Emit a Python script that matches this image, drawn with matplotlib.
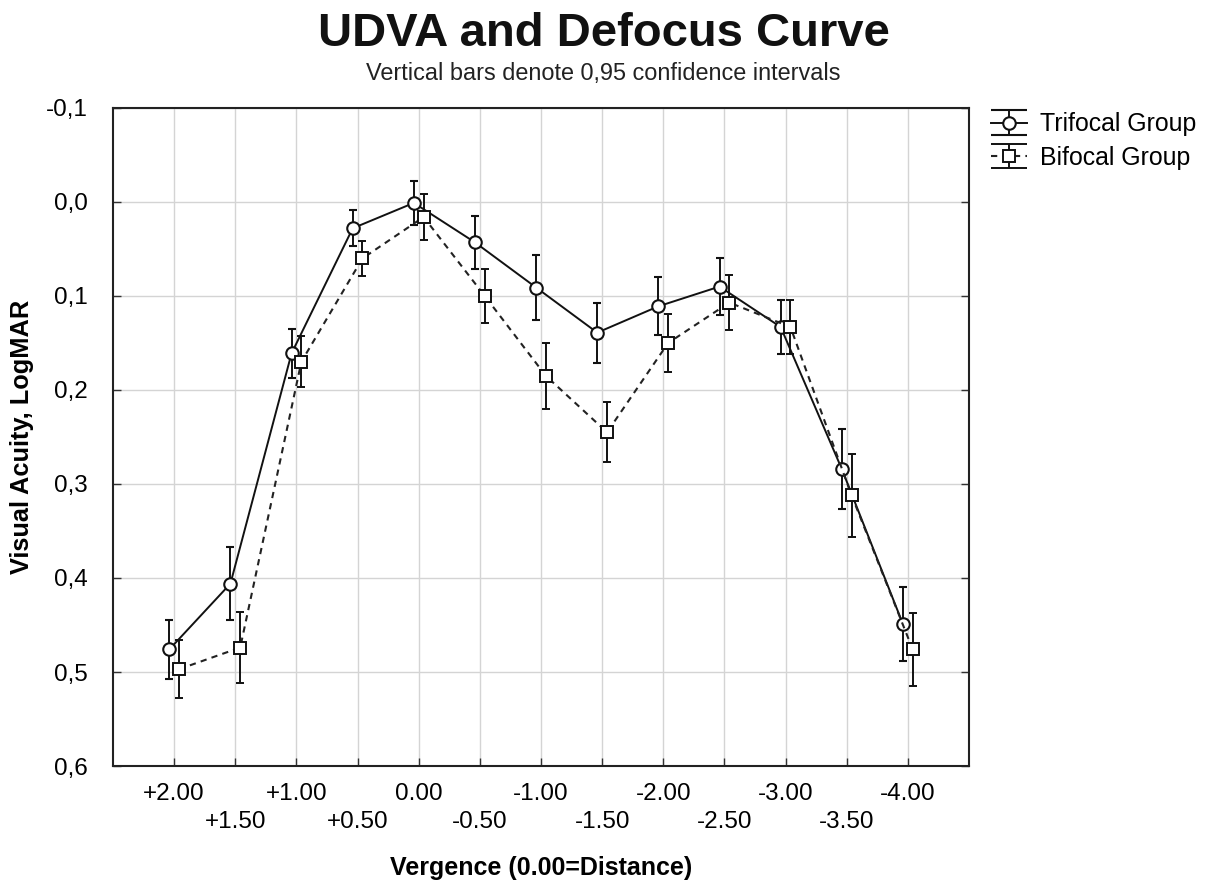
import numpy as np
import matplotlib.pyplot as plt

plt.rcParams['font.family'] = ['Liberation Sans', 'DejaVu Sans']

# vergence categories (dioptres), left to right
vergence = ['+2.00', '+1.50', '+1.00', '+0.50', '0.00', '-0.50', '-1.00',
            '-1.50', '-2.00', '-2.50', '-3.00', '-3.50', '-4.00']

# mean LogMAR and half-width of the 0.95 CI
tri_mean = [0.476, 0.406, 0.161, 0.028, 0.001, 0.043, 0.091,
            0.139, 0.111, 0.090, 0.133, 0.284, 0.449]
tri_ci = [0.031, 0.039, 0.026, 0.019, 0.023, 0.028, 0.035,
          0.032, 0.031, 0.030, 0.029, 0.043, 0.039]

bi_mean = [0.497, 0.474, 0.170, 0.060, 0.016, 0.100, 0.185,
           0.245, 0.150, 0.107, 0.133, 0.312, 0.476]
bi_ci = [0.031, 0.038, 0.027, 0.019, 0.024, 0.029, 0.035,
         0.032, 0.031, 0.029, 0.029, 0.044, 0.039]

yticks = [-0.1, 0.0, 0.1, 0.2, 0.3, 0.4, 0.5, 0.6]


fig = plt.figure(figsize=(12.13, 8.82), dpi=100)
ax = fig.add_axes([0.0932, 0.1315, 0.7056, 0.7461])

x = np.arange(len(vergence))
off = 0.08

tri_style = dict(color='#111111', lw=1.4, marker='o', ms=9, mfc='white',
                 mec='#111111', mew=1.5)
bi_style = dict(color='#222222', lw=1.5, ls=(0, (3, 2.5)), marker='s',
                ms=8.5, mfc='white', mec='#111111', mew=1.4)
bar_style = dict(ecolor='#111111', elinewidth=1.4, capthick=1.4)

ax.errorbar(x - off, tri_mean, yerr=tri_ci, capsize=3, zorder=3,
            **tri_style, **bar_style)
ax.errorbar(x + off, bi_mean, yerr=bi_ci, capsize=3, zorder=3,
            **bi_style, **bar_style)

# legend proxies with wide caps, as in the original legend
h1 = ax.errorbar([np.nan], [np.nan], yerr=[0.0], capsize=13,
                 label='Trifocal Group', **tri_style, **bar_style)
h2 = ax.errorbar([np.nan], [np.nan], yerr=[0.0], capsize=13,
                 label='Bifocal Group', **bi_style, **bar_style)

ax.set_xlim(-1, 13)
ax.set_ylim(0.6, -0.1)

ax.set_xticks(x)
ax.set_xticklabels([v if i % 2 == 0 else '\n' + v for i, v in enumerate(vergence)],
                   linespacing=1.4)
ax.set_yticks(yticks)
ax.set_yticklabels([('%.1f' % t).replace('.', ',') for t in yticks])

ax.grid(True, color='#d4d4d4', lw=1.0)
ax.set_axisbelow(True)
ax.tick_params(axis='both', direction='in', length=6, width=1, labelsize=17.5,
               color='#333333')
ax.tick_params(axis='y', right=True, pad=18)
ax.tick_params(axis='x', pad=12)
for s in ax.spines.values():
    s.set_linewidth(1.5)
    s.set_color('#222222')

ax.set_xlabel('Vergence (0.00=Distance)', fontsize=18, fontweight='bold',
              labelpad=16)
ax.set_ylabel('Visual Acuity, LogMAR', fontsize=18.3, fontweight='bold',
              labelpad=9)

fig.text(0.4975, 0.962, 'UDVA and Defocus Curve', fontsize=34,
         fontweight='bold', ha='center', va='center', color='#111111')
fig.text(0.4975, 0.917, 'Vertical bars denote 0,95 confidence intervals',
         fontsize=16.9, ha='center', va='center', color='#222222')

fig.legend(handles=[h1, h2], loc='upper left', bbox_to_anchor=(0.8085, 0.884),
           frameon=False, fontsize=17.9, handlelength=1.45, handletextpad=0.55,
           labelspacing=0.38, borderaxespad=0)

fig.savefig('out.png', dpi=100, facecolor='white')
